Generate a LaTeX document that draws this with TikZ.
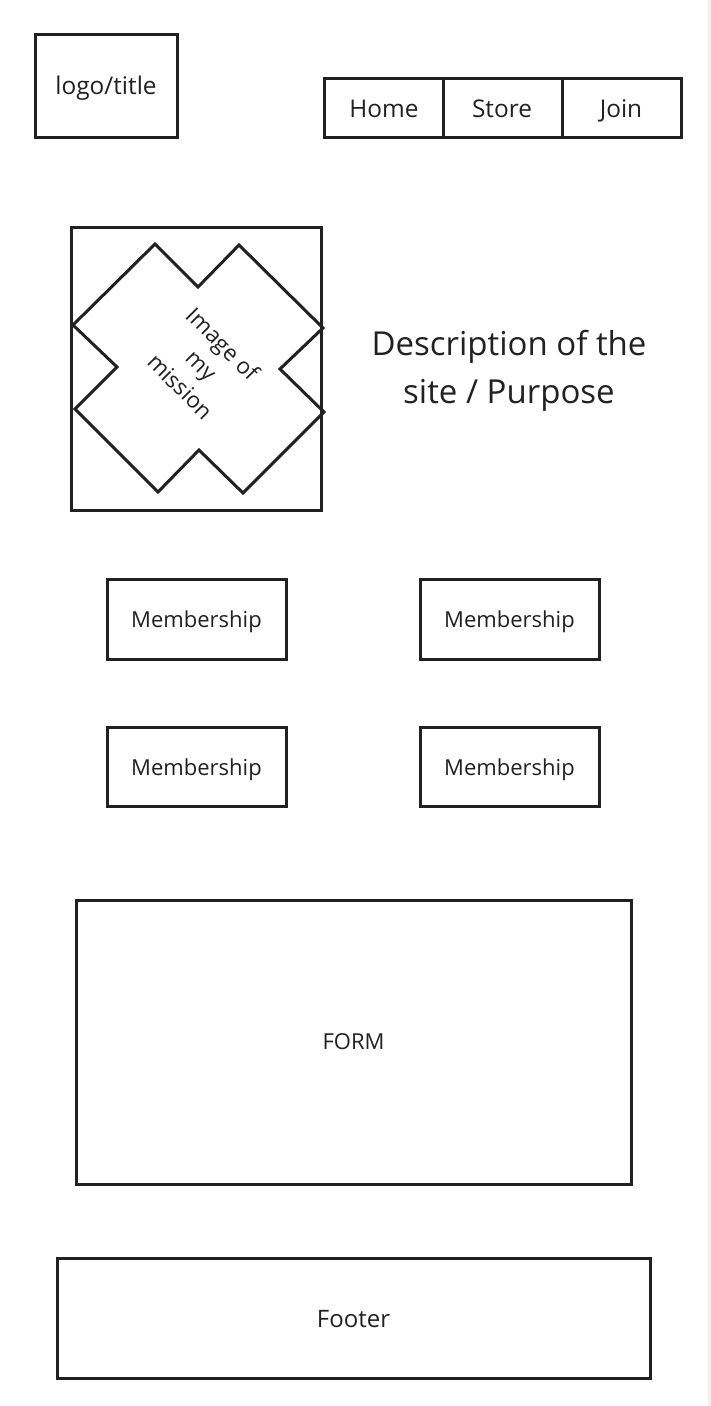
\documentclass[tikz,border=0pt]{standalone}
\usepackage{fontspec}
\setmainfont{Open Sans}
\begin{document}
\begin{tikzpicture}[x=1pt,y=-1pt,
  frame/.style={draw=black!87,line width=3pt},
  lbl/.style={anchor=base,font=\fontsize{22}{26}\selectfont,text=black!87},
  hdr/.style={anchor=base,font=\fontsize{24.4}{28}\selectfont,text=black!87},
  bigl/.style={anchor=base,font=\fontsize{33}{48}\selectfont,text=black!87,align=center}]
% page and right edge strip
\useasboundingbox (0,0) rectangle (711,1406);
\fill[white] (0,0) rectangle (711,1406);
\fill[black!6] (708,0) rectangle (711,1406);
% header
\draw[frame] (35,34) rectangle (177,137);
\node[hdr] (logo) at (106,94) {logo/title};
\draw[frame] (324,78) rectangle (681,137);
\draw[frame] (443,78) -- (443,137);
\draw[frame] (562,78) -- (562,137);
\node[hdr] (home) at (384,117) {Home};
\node[hdr] (store) at (502,117) {Store};
\node[hdr] (join) at (621,117) {Join};
% mission image
\draw[frame] (71,227) rectangle (321,510);
\draw[frame,line join=miter] (155,244) -- (198,287) -- (239,245) -- (323,328) -- (280,369) -- (324,412)
  -- (243,493) -- (199,450) -- (158,492) -- (75,409) -- (117,367) -- (73,325) -- cycle;
\node[align=center,rotate=-45,font=\fontsize{22.5}{30}\selectfont,text=black!87] (img) at (202,365) {Image of\\my\\mission};
% description (base anchor sits on the last line)
\node[bigl] (desc) at (509,403) {Description of the\\site / Purpose};
% memberships
\draw[frame] (107,579) rectangle (286,659);
\node[lbl] (m1) at (196.5,627) {Membership};
\draw[frame] (420,579) rectangle (599,659);
\node[lbl] (m2) at (509.5,627) {Membership};
\draw[frame] (107,727) rectangle (286,806);
\node[lbl] (m3) at (196.5,775) {Membership};
\draw[frame] (420,727) rectangle (599,806);
\node[lbl] (m4) at (509.5,775) {Membership};
% form and footer
\draw[frame] (76,900) rectangle (631,1184);
\node[lbl] (form) at (353.5,1049) {FORM};
\draw[frame] (57,1258) rectangle (650,1378);
\node[hdr,font=\fontsize{24}{28}\selectfont] (foot) at (353.5,1327) {Footer};
\end{tikzpicture}
\end{document}
